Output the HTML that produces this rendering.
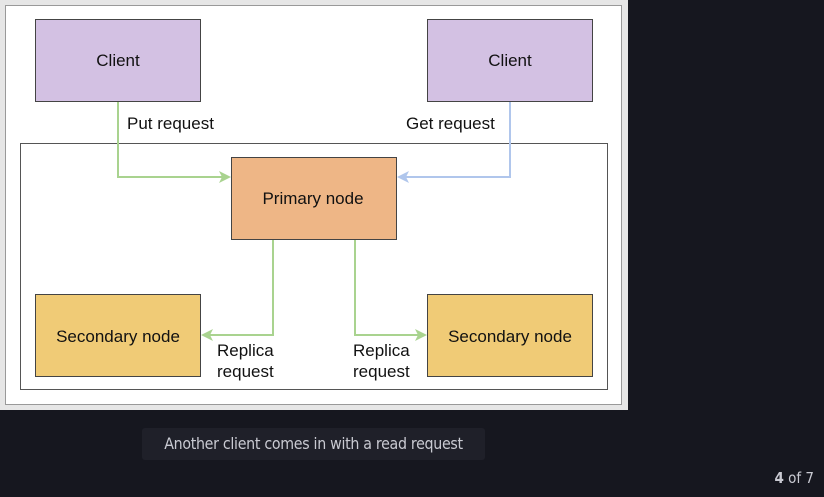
<!DOCTYPE html>
<html><head><meta charset="utf-8"><style>
html,body{margin:0;padding:0;background:#16171f;width:824px;height:497px;overflow:hidden}
svg{position:absolute;left:0;top:0}
.cap{position:absolute;left:142px;top:428px;width:343px;height:32px;background:#1f2029;border-radius:3px;color:#c9cad2;font:15.8px "DejaVu Sans Condensed","DejaVu Sans",sans-serif;line-height:32px;text-align:center;letter-spacing:-0.3px}
.pg{position:absolute;right:10px;top:469px;color:#c9cad2;font:15px "DejaVu Sans Condensed","DejaVu Sans",sans-serif}
</style></head><body>
<svg width="824" height="497" font-family="Liberation Sans, Arial, sans-serif" font-size="17">
<rect x="0" y="0" width="628" height="410" fill="#e6e6e6"/>
<rect x="5.5" y="5.5" width="616" height="399" fill="#fff" stroke="#999"/>
<rect x="20.5" y="143.5" width="587" height="246" fill="none" stroke="#555"/>
<g stroke="#444" stroke-width="1">
<rect x="35.5" y="19.5" width="165" height="82" fill="#d3c1e3"/>
<rect x="427.5" y="19.5" width="165" height="82" fill="#d3c1e3"/>
<rect x="231.5" y="157.5" width="165" height="82" fill="#eeb686"/>
<rect x="35.5" y="294.5" width="165" height="82" fill="#f0cb76"/>
<rect x="427.5" y="294.5" width="165" height="82" fill="#f0cb76"/>
</g>
<g fill="none" stroke-width="2">
<path d="M118 102V177H224" stroke="#a9d38f"/>
<path d="M510 102V177H404" stroke="#b0c6ec"/>
<path d="M273 240V335H208" stroke="#a9d38f"/>
<path d="M355 240V335H420" stroke="#a9d38f"/>
</g>
<path d="M231 177l-12-6 3 6-3 6z" fill="#a9d38f"/>
<path d="M397 177l12-6-3 6 3 6z" fill="#b0c6ec"/>
<path d="M201 335l12-6-3 6 3 6z" fill="#a9d38f"/>
<path d="M427 335l-12-6 3 6-3 6z" fill="#a9d38f"/>
<g fill="#111" text-anchor="middle">
<text x="118" y="66">Client</text>
<text x="510" y="66">Client</text>
<text x="313" y="204">Primary node</text>
<text x="118" y="342">Secondary node</text>
<text x="510" y="342">Secondary node</text>
</g>
<g fill="#111">
<text x="127" y="129">Put request</text>
<text x="406" y="129">Get request</text>
<text x="217" y="356">Replica</text>
<text x="217" y="377">request</text>
<text x="353" y="356">Replica</text>
<text x="353" y="377">request</text>
</g>
</svg>
<div class="cap">Another client comes in with a read request</div>
<div class="pg"><b>4</b> of 7</div>
</body></html>
